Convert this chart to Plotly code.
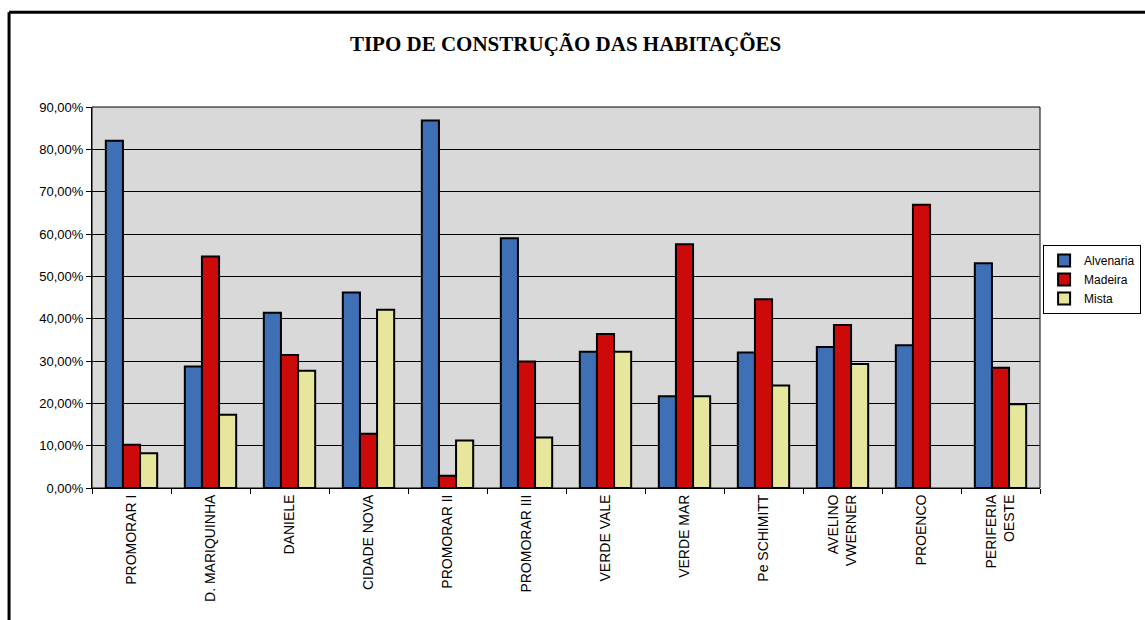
import plotly.graph_objects as go

# Bairros (categorias do eixo x)
bairros = [
    "PROMORAR I", "D. MARIQUINHA", "DANIELE", "CIDADE NOVA", "PROMORAR II",
    "PROMORAR III", "VERDE VALE", "VERDE MAR", "Pe SCHIMITT",
    "AVELINO<br>VWERNER", "PROENCO", "PERIFERIA<br>OESTE",
]

# Percentual por tipo de construção (PROENCO não tem construção mista)
alvenaria = [0.820, 0.287, 0.414, 0.462, 0.868, 0.590, 0.322, 0.217, 0.320, 0.333, 0.337, 0.531]
madeira = [0.102, 0.547, 0.314, 0.128, 0.029, 0.299, 0.364, 0.576, 0.446, 0.385, 0.669, 0.284]
mista = [0.082, 0.173, 0.277, 0.421, 0.112, 0.119, 0.322, 0.217, 0.242, 0.293, None, 0.198]

y_ticks = [0, 0.1, 0.2, 0.3, 0.4, 0.5, 0.6, 0.7, 0.8, 0.9]

series = [
    ("Alvenaria", alvenaria, "#3f6fb5"),
    ("Madeira", madeira, "#cc0a0a"),
    ("Mista", mista, "#e6e69c"),
]

fig = go.Figure()
for nome, valores, cor in series:
    fig.add_trace(go.Bar(
        name=nome, x=bairros, y=valores,
        marker=dict(color=cor, line=dict(color="#000000", width=2)),
    ))

fam = "Liberation Sans, Arial, sans-serif"

fig.update_layout(
    width=1145, height=620,
    margin=dict(l=92, r=105, t=107, b=132, autoexpand=False),
    paper_bgcolor="#ffffff",
    plot_bgcolor="#d9d9d9",
    separators=",.",
    barmode="group",
    bargap=0.35,
    bargroupgap=0.0,
    title=dict(
        text="<b>TIPO DE CONSTRUÇÃO DAS HABITAÇÕES</b>",
        font=dict(family="Liberation Serif, Times New Roman, serif", size=21, color="#000000"),
        x=0.494, xanchor="center", y=0.93, yanchor="middle",
    ),
    legend=dict(
        xref="container", yref="container",
        x=0.911, xanchor="left", y=0.605, yanchor="top",
        bgcolor="#ffffff", bordercolor="#000000", borderwidth=1,
        font=dict(family=fam, size=12, color="#000000"),
        itemwidth=30, tracegroupgap=0,
    ),
    xaxis=dict(
        type="category",
        tickangle=-90,
        tickfont=dict(family=fam, size=14, color="#000000"),
        showline=True, linecolor="#000000", linewidth=1,
        ticks="outside", tickson="boundaries", ticklen=5, tickcolor="#000000",
        showgrid=False,
    ),
    yaxis=dict(
        range=[0, 0.9],
        tickvals=y_ticks,
        tickformat=".2%",
        tickfont=dict(family=fam, size=13, color="#000000"),
        showline=True, linecolor="#000000", linewidth=1,
        ticks="outside", ticklen=5, tickcolor="#000000",
        showgrid=True, gridcolor="#000000", gridwidth=1,
        zeroline=False,
    ),
    shapes=[
        dict(type="rect", xref="paper", yref="paper",
             x0=0, x1=1, y0=0, y1=1,
             line=dict(color="#000000", width=1), layer="below"),
        # moldura externa do gráfico
        dict(type="line", xref="paper", yref="paper",
             x0=-0.0875, x1=1.2, y0=1.249, y1=1.249,
             line=dict(color="#000000", width=3)),
        dict(type="line", xref="paper", yref="paper",
             x0=-0.0875, x1=-0.0875, y0=1.249, y1=-0.40,
             line=dict(color="#000000", width=3)),
    ],
)

fig.write_html("out.html")
